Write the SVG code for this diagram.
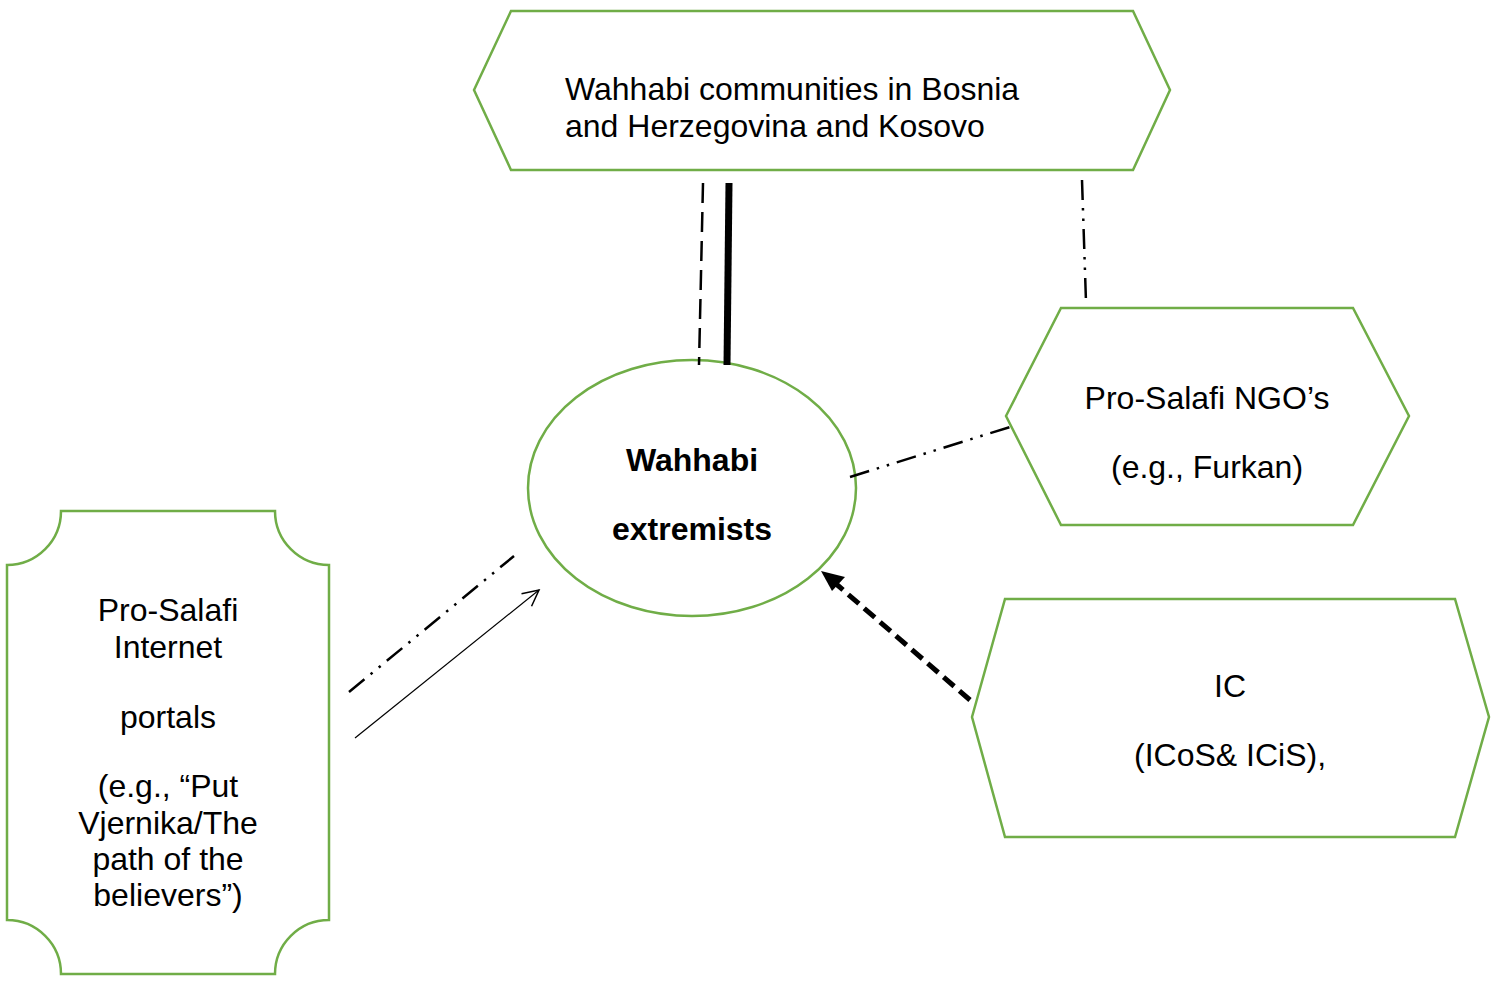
<svg xmlns="http://www.w3.org/2000/svg" width="1503" height="982" viewBox="0 0 1503 982">
<style>
.node{fill:#fff;stroke:#70AD47;stroke-width:2.5}
.t{font-family:"Liberation Sans",Arial,sans-serif;font-size:32px;fill:#000}
.c{text-anchor:middle}
.b{font-weight:bold}
.ln{fill:none;stroke:#000}
.dd{stroke-width:2.5;stroke-dasharray:20,8,2.5,8,2.5,8}
</style>
<defs>
<marker id="open" viewBox="0 0 20 20" refX="18" refY="10" markerWidth="20" markerHeight="20" markerUnits="userSpaceOnUse" orient="auto">
<path d="M2,2 L18,10 L2,18" fill="none" stroke="#000" stroke-width="1.5"/>
</marker>
</defs>
<rect width="1503" height="982" fill="#fff"/>
<g id="node-communities">
<polygon class="node" points="474,90 511,11 1133,11 1170,90 1133,170 511,170"/>
<text class="t" x="565" y="100">Wahhabi communities in Bosnia</text>
<text class="t" x="565" y="137">and Herzegovina and Kosovo</text>
</g>
<g id="node-extremists">
<ellipse class="node" cx="692" cy="488" rx="164" ry="128"/>
<text class="t c b" x="692" y="471">Wahhabi</text>
<text class="t c b" x="692" y="540">extremists</text>
</g>
<g id="node-ngos">
<polygon class="node" points="1006,416 1061,308 1353,308 1409,416 1353,525 1061,525"/>
<text class="t c" x="1207" y="409">Pro-Salafi NGO’s</text>
<text class="t c" x="1207" y="478">(e.g., Furkan)</text>
</g>
<g id="node-ic">
<polygon class="node" points="972,717 1005,599 1455,599 1489,717 1455,837 1005,837"/>
<text class="t c" x="1230" y="697">IC</text>
<text class="t c" x="1230" y="766">(ICoS&amp; ICiS),</text>
</g>
<g id="node-portals">
<path class="node" d="M61,511 L275,511 A54,54 0 0 0 329,565 L329,920 A54,54 0 0 0 275,974 L61,974 A54,54 0 0 0 7,920 L7,565 A54,54 0 0 0 61,511 Z"/>
<text class="t c" x="168" y="621">Pro-Salafi</text>
<text class="t c" x="168" y="658">Internet</text>
<text class="t c" x="168" y="728">portals</text>
<text class="t c" x="168" y="797">(e.g., “Put</text>
<text class="t c" x="168" y="834">Vjernika/The</text>
<text class="t c" x="168" y="870">path of the</text>
<text class="t c" x="168" y="906">believers”)</text>
</g>
<g id="connectors">
<line class="ln" x1="703" y1="183" x2="699" y2="365" stroke-width="2.5" stroke-dasharray="20,9"/>
<line class="ln" x1="729" y1="183" x2="727" y2="365" stroke-width="7"/>
<line class="ln dd" x1="1082" y1="180" x2="1086" y2="302"/>
<line class="ln dd" x1="850" y1="477" x2="1010" y2="427"/>
<line class="ln dd" x1="349" y1="692" x2="514" y2="556"/>
<line class="ln" x1="355" y1="738" x2="539" y2="590" stroke-width="1.2" marker-end="url(#open)"/>
<line class="ln" x1="970" y1="700" x2="835" y2="583" stroke-width="5" stroke-dasharray="14,7"/>
<path d="M821,571 L845,577 L832,591 Z" fill="#000"/>
</g>
</svg>
